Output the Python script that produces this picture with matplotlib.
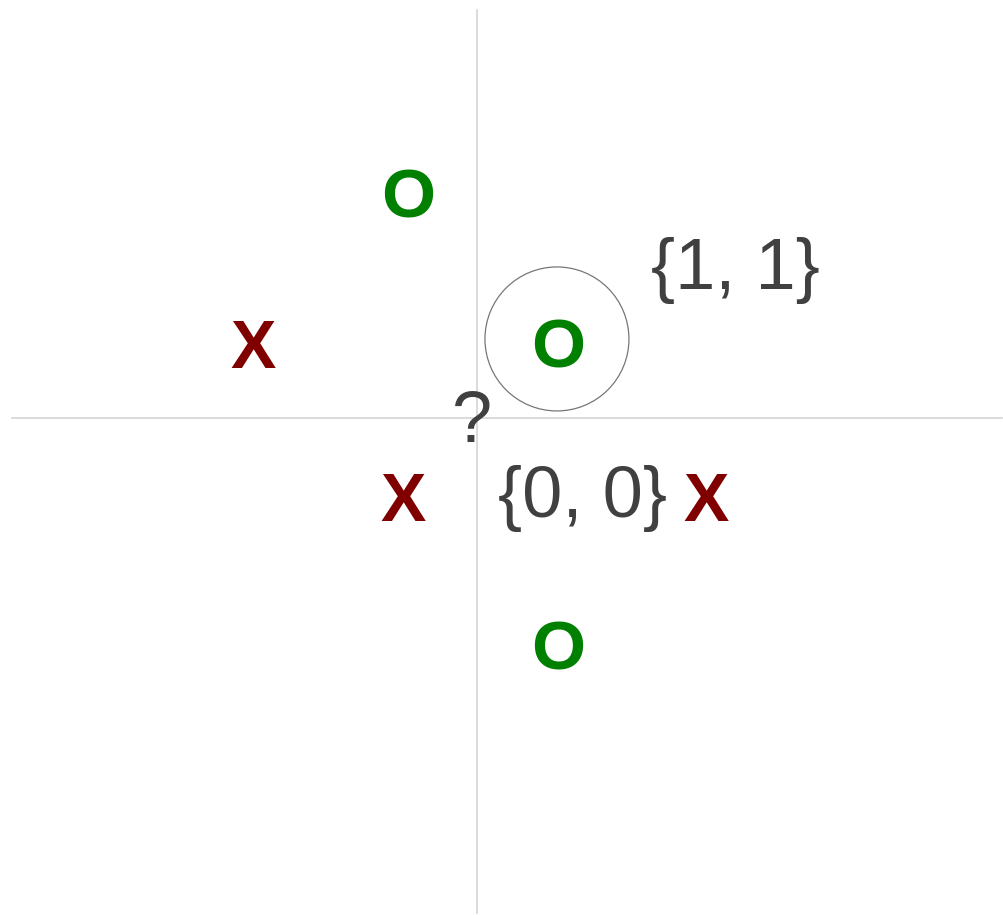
import matplotlib
matplotlib.use("Agg")
import matplotlib.pyplot as plt
from matplotlib.patches import Circle

# positions in axis units (1 unit ~ 150 px)
o_x = [-0.46, 0.54, 0.54]
o_y = [1.5, 0.5, -1.51]
x_x = [-1.49, -0.49, 1.53]
x_y = [0.5, -0.52, -0.52]

notes = ["{1, 1}", "{0, 0}", "?"]
note_x = [1.72, 0.70, -0.035]
note_y = [1.03, -0.49, 0.01]

circle_center = (0.533, 0.527)
circle_r = 0.48

fig = plt.figure(figsize=(10.04, 9.15), dpi=100)
ax = fig.add_axes([0, 0, 1, 1])
ax.set_xlim(-477 / 150, (1004 - 477) / 150)
ax.set_ylim(-(915 - 418) / 150, 418 / 150)
ax.axis("off")

# axes lines
ax.plot([-3.1, 3.5], [0, 0], color="#d4d4d4", lw=1.2, zorder=1)
ax.plot([0, 0], [-3.3, 2.72], color="#d4d4d4", lw=1.2, zorder=1)

for xx, yy in zip(o_x, o_y):
    ax.text(xx, yy, "O", color="#008000", fontsize=50, fontweight="bold",
            family="Liberation Sans", ha="center", va="center_baseline")
for xx, yy in zip(x_x, x_y):
    ax.text(xx, yy, "X", color="#800000", fontsize=49, fontweight="bold",
            family="Liberation Sans", ha="center", va="center_baseline")

for t, xx, yy in zip(notes, note_x, note_y):
    ax.text(xx, yy, t, color="#404040", fontsize=52,
            family="Liberation Sans", ha="center", va="center_baseline")

ax.add_patch(Circle(circle_center, circle_r, fill=False, edgecolor="#777777", lw=0.9))

fig.savefig("out.png", dpi=100)
